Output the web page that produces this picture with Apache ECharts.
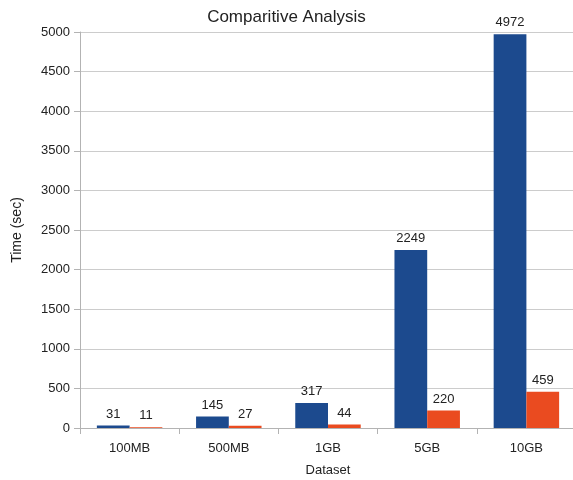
<!DOCTYPE html>
<html>
<head>
<meta charset="utf-8">
<script src="https://cdn.jsdelivr.net/npm/echarts@6/dist/echarts.min.js"></script>
<style>
  html, body { margin: 0; padding: 0; background: #fff; }
  #chart { width: 573px; height: 480px; }
</style>
</head>
<body>
<div id="chart"></div>
<script>
var categories = ['100MB', '500MB', '1GB', '5GB', '10GB'];
var seriesA = [31, 145, 317, 2249, 4972];
var seriesB = [11, 27, 44, 220, 459];

(function () {
  var myChart = echarts.init(document.getElementById('chart'));
  var font = 'Liberation Sans';
  var option = {
    animation: false,
    textStyle: { fontFamily: font },
    title: {
      text: 'Comparitive Analysis',
      left: 'center',
      top: 4,
      textStyle: { fontFamily: font, fontSize: 17, fontWeight: 'normal', color: '#222' }
    },
    grid: {
      left: 80,
      top: 32,
      width: 496,
      height: 396,
      outerBoundsMode: 'none'
    },
    xAxis: {
      type: 'category',
      data: categories,
      name: 'Dataset',
      nameLocation: 'middle',
      nameGap: 36,
      nameTextStyle: { fontSize: 13, color: '#222' },
      axisLine: { lineStyle: { color: '#b3b3b3', width: 1 } },
      axisTick: { show: true, length: 6, lineStyle: { color: '#b3b3b3' } },
      axisLabel: { fontSize: 13, color: '#222', margin: 14 }
    },
    yAxis: {
      type: 'value',
      min: 0,
      max: 5000,
      interval: 500,
      name: 'Time (sec)',
      nameLocation: 'middle',
      nameGap: 56,
      nameTextStyle: { fontSize: 14, color: '#222' },
      axisLine: { show: true, lineStyle: { color: '#b3b3b3', width: 1 } },
      axisTick: { show: true, length: 6, lineStyle: { color: '#b3b3b3' } },
      axisLabel: {
        fontSize: 13, color: '#222', margin: 10,
        formatter: function (v) { return String(v); }
      },
      splitLine: { lineStyle: { color: '#cccccc', width: 1 } }
    },
    series: [
      {
        type: 'bar',
        data: seriesA,
        barGap: 0,
        barCategoryGap: '34%',
        itemStyle: { color: '#1c4a8e' },
        label: { show: true, position: 'top', fontSize: 13, color: '#222', distance: 5 }
      },
      {
        type: 'bar',
        data: seriesB,
        itemStyle: { color: '#ea4b20' },
        label: { show: true, position: 'top', fontSize: 13, color: '#222', distance: 5 }
      }
    ]
  };
  myChart.setOption(option);
  window.addEventListener('resize', function () {
    myChart.resize();
  });
})();
</script>
</body>
</html>
